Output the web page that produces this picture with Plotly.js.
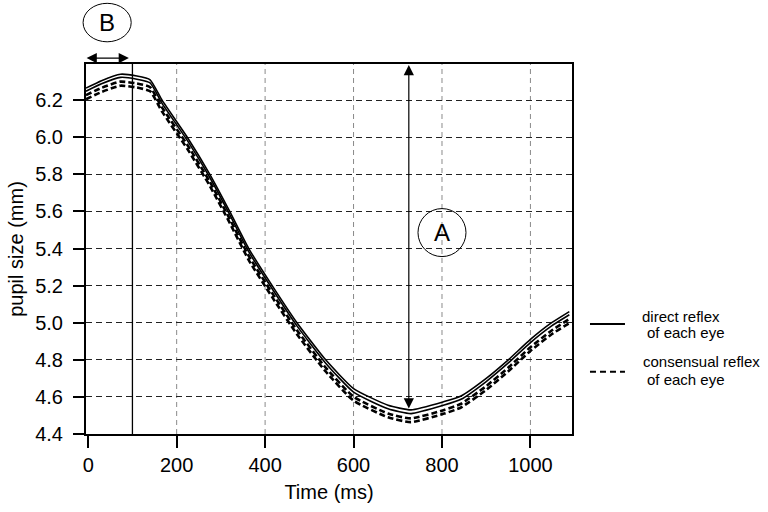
<!DOCTYPE html>
<html>
<head>
<meta charset="utf-8">
<script src="https://cdn.plot.ly/plotly-3.0.1.min.js"></script>
<style>
  html, body { margin: 0; padding: 0; background: #fff; }
  #chart { width: 768px; height: 512px; }
</style>
</head>
<body>
<div id="chart"></div>
<script>
// pupil size over time
const timeMs = [-5, 30, 73, 110, 140, 167, 224, 275, 320, 363, 416, 472, 537, 600, 678, 730, 805, 843, 900, 950, 1000, 1048, 1088];
const directEye1 = [6.265, 6.305, 6.340, 6.330, 6.310, 6.200, 6.000, 5.800, 5.600, 5.400, 5.200, 5.000, 4.800, 4.645, 4.555, 4.530, 4.575, 4.605, 4.700, 4.800, 4.910, 5.000, 5.060];
const directEye2 = [6.248, 6.288, 6.323, 6.313, 6.293, 6.183, 5.983, 5.783, 5.583, 5.383, 5.183, 4.983, 4.782, 4.626, 4.536, 4.510, 4.556, 4.587, 4.683, 4.783, 4.893, 4.983, 5.043];
const consensualEye1 = [6.227, 6.266, 6.300, 6.290, 6.270, 6.160, 5.960, 5.760, 5.560, 5.360, 5.160, 4.960, 4.758, 4.601, 4.510, 4.484, 4.530, 4.563, 4.658, 4.758, 4.868, 4.958, 5.020];
const consensualEye2 = [6.205, 6.244, 6.278, 6.268, 6.248, 6.138, 5.938, 5.738, 5.538, 5.338, 5.138, 4.938, 4.737, 4.580, 4.490, 4.464, 4.510, 4.543, 4.638, 4.738, 4.848, 4.938, 4.998];

const xTicks = [0, 200, 400, 600, 800, 1000];
const yTicks = [4.4, 4.6, 4.8, 5.0, 5.2, 5.4, 5.6, 5.8, 6.0, 6.2];
const xGrid = [200, 400, 600, 800, 1000];
const latencyEnd = 100;      // B
const amplitudeAt = 725;     // A
const amplitudeMin = 4.53;

const font = 'Liberation Sans, Arial, sans-serif';

const solid = (y) => ({
  x: timeMs, y, type: 'scatter', mode: 'lines', showlegend: false, hoverinfo: 'skip',
  line: { color: '#000', width: 1.6, shape: 'spline', smoothing: 0.5 },
});
const dashed = (y) => ({
  x: timeMs, y, type: 'scatter', mode: 'lines', showlegend: false, hoverinfo: 'skip',
  line: { color: '#000', width: 2.6, dash: '6px,3px', shape: 'spline', smoothing: 0.5 },
});

const traces = [solid(directEye1), solid(directEye2), dashed(consensualEye1), dashed(consensualEye2)];

const shapes = [
  ...xGrid.map((v) => ({
    type: 'line', xref: 'x', yref: 'paper', x0: v, x1: v, y0: 0, y1: 1, layer: 'below',
    line: { color: '#8a8a8a', width: 1, dash: '5px,4px' },
  })),
  { type: 'line', xref: 'x', yref: 'paper', x0: latencyEnd, x1: latencyEnd, y0: 0, y1: 1, line: { color: '#000', width: 1.3 } },
  // circle A
  { type: 'circle', xref: 'x', yref: 'y', xsizemode: 'pixel', ysizemode: 'pixel', xanchor: 800, yanchor: 5.486,
    x0: -24, x1: 24, y0: -24, y1: 24, line: { color: '#000', width: 1 } },
  // circle B
  { type: 'circle', xref: 'paper', yref: 'paper', x0: -0.006, x1: 0.093, y0: 1.060, y1: 1.164, line: { color: '#000', width: 1 } },
  // legend samples
  { type: 'line', xref: 'paper', yref: 'paper', x0: 1.037, x1: 1.109, y0: 0.297, y1: 0.297, line: { color: '#000', width: 2 } },
  { type: 'line', xref: 'paper', yref: 'paper', x0: 1.037, x1: 1.109, y0: 0.168, y1: 0.168, line: { color: '#000', width: 2, dash: '6px,4px' } },
];

const legendText = (text, x, y) => ({
  x, y, xref: 'paper', yref: 'paper', xanchor: 'left', yanchor: 'middle', showarrow: false,
  text, font: { family: font, size: 15, color: '#000' },
});

const annotations = [
  { x: amplitudeAt, y: 6.39, ax: amplitudeAt, ay: amplitudeMin, xref: 'x', yref: 'y', axref: 'x', ayref: 'y',
    text: '', showarrow: true, arrowside: 'end+start', arrowhead: 2, arrowsize: 1.7, arrowwidth: 1.2, arrowcolor: '#000' },
  { x: 800, y: 5.486, xref: 'x', yref: 'y', text: 'A', showarrow: false, font: { family: font, size: 24, color: '#000' } },
  { x: 0.044, y: 1.112, xref: 'paper', yref: 'paper', xanchor: 'center', yanchor: 'middle', text: 'B', showarrow: false,
    font: { family: font, size: 24, color: '#000' } },
  { x: 92, y: 1.016, ax: -7, ay: 0, xref: 'x', yref: 'paper', axref: 'x', ayref: 'pixel',
    text: '', showarrow: true, arrowside: 'end+start', arrowhead: 2, arrowsize: 1.7, arrowwidth: 1.2, arrowcolor: '#000' },
  legendText('direct reflex', 1.140, 0.317),
  legendText('of each eye', 1.150, 0.273),
  legendText('consensual reflex', 1.142, 0.195),
  legendText('of each eye', 1.150, 0.146),
];

const layout = {
  width: 768, height: 512,
  margin: { l: 86, r: 196, t: 64, b: 78 },
  paper_bgcolor: '#fff', plot_bgcolor: '#fff',
  font: { family: font, size: 20, color: '#000' },
  showlegend: false,
  xaxis: {
    range: [-5, 1094], tickvals: xTicks, ticks: 'outside', ticklen: 12, tickwidth: 2, tickcolor: '#000',
    showgrid: false, zeroline: false, showline: true, linewidth: 2, linecolor: '#000', mirror: true,
    ticklabelstandoff: 0,
    title: { text: 'Time (ms)', font: { family: font, size: 20 }, standoff: 10 },
  },
  yaxis: {
    range: [4.4, 6.395], tickvals: yTicks, tickformat: '.1f', ticks: 'outside', ticklen: 11, tickwidth: 2, tickcolor: '#000',
    showgrid: true, gridcolor: '#222', gridwidth: 1, griddash: '6px,4px', zeroline: false,
    showline: true, linewidth: 2, linecolor: '#000', mirror: true, ticklabelstandoff: 6,
    title: { text: 'pupil size (mm)', font: { family: font, size: 20 }, standoff: 6 },
  },
  shapes,
  annotations,
};

Plotly.newPlot('chart', traces, layout, { displayModeBar: false, staticPlot: true });
</script>
</body>
</html>
